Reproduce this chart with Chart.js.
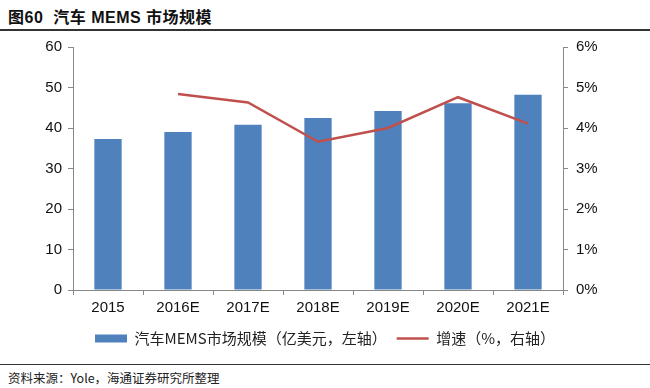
<!DOCTYPE html>
<html>
<head>
<meta charset="utf-8">
<script src="https://cdn.jsdelivr.net/npm/chart.js@4"></script>
<style>
  body { margin: 0; background: #fff; width: 650px; height: 388px; position: relative; overflow: hidden; }
  #title { position: absolute; left: 8px; top: 4px; font: bold 16px "Liberation Sans", "Noto Sans CJK SC", sans-serif; color: #111; letter-spacing: 0.5px; }
  #title .cn { font-family: "Noto Sans CJK SC"; }
  #topLine { position: absolute; left: 0; top: 29px; width: 650px; height: 2px; background: #333; }
  #bottomLine { position: absolute; left: 0; top: 364px; width: 650px; height: 1px; background: #333; }
  #source { position: absolute; left: 8px; top: 368px; font: 12.5px "Noto Sans CJK SC", sans-serif; color: #222; }
  #wrap { position: absolute; left: 0; top: 30px; width: 650px; height: 334px; }
</style>
</head>
<body>
<div id="title"><span class="cn">图</span>60&nbsp;&nbsp;<span class="cn">汽车</span> MEMS <span class="cn">市场规模</span></div>
<div id="topLine"></div>
<div id="wrap"><canvas id="chart"></canvas></div>
<div id="bottomLine"></div>
<div id="source">资料来源：Yole，海通证券研究所整理</div>
<script>
"use strict";

const years = ["2015", "2016E", "2017E", "2018E", "2019E", "2020E", "2021E"];
const marketSize = [37.3, 39.0, 40.8, 42.5, 44.2, 46.1, 48.2];
const growth = [null, 4.84, 4.63, 3.66, 4.0, 4.76, 4.11];

const AXIS_COLOR = "#888";
const tickFont = { family: "Liberation Sans", size: 15 };

new Chart(document.getElementById("chart"), {
  data: {
    labels: years,
    datasets: [
      {
        type: "line",
        label: "增速（%，右轴）",
        data: growth,
        yAxisID: "y1",
        borderColor: "#c0504d",
        backgroundColor: "#c0504d",
        borderWidth: 2.5,
        pointRadius: 0,
        pointStyle: "line",
        order: 0,
      },
      {
        type: "bar",
        label: "汽车MEMS市场规模（亿美元，左轴）",
        data: marketSize,
        yAxisID: "y",
        backgroundColor: "#4f81bd",
        categoryPercentage: 1,
        barPercentage: 0.39,
        pointStyle: "rect",
        order: 1,
      },
    ],
  },
  options: {
    responsive: true,
    maintainAspectRatio: false,
    animation: false,
    layout: { padding: { top: 0, left: 0, right: 0, bottom: 8 } },
    plugins: {
      tooltip: { enabled: false },
      legend: {
        position: "bottom",
        reverse: true,
        labels: {
          usePointStyle: true,
          pointStyleWidth: 32,
          boxHeight: 8,
          padding: 10,
          color: "#222",
          font: { family: "Noto Sans CJK SC", size: 15 },
        },
      },
    },
    scales: {
      x: {
        grid: { display: true, drawOnChartArea: false, tickLength: 5, color: AXIS_COLOR },
        border: { color: AXIS_COLOR },
        ticks: { color: "#111", font: tickFont, padding: 4 },
      },
      y: {
        position: "left",
        min: 0,
        max: 60,
        ticks: { stepSize: 10, color: "#111", font: tickFont, padding: 6 },
        grid: { drawOnChartArea: false, tickLength: 5, color: AXIS_COLOR },
        border: { color: AXIS_COLOR },
        afterFit: (scale) => { scale.width = 73; },
      },
      y1: {
        position: "right",
        min: 0,
        max: 6,
        ticks: { stepSize: 1, color: "#111", font: tickFont, padding: 8, callback: (v) => v + "%" },
        grid: { drawOnChartArea: false, tickLength: 5, color: AXIS_COLOR },
        border: { color: AXIS_COLOR },
        afterFit: (scale) => { scale.width = 87; },
      },
    },
  },
});
</script>
</body>
</html>
